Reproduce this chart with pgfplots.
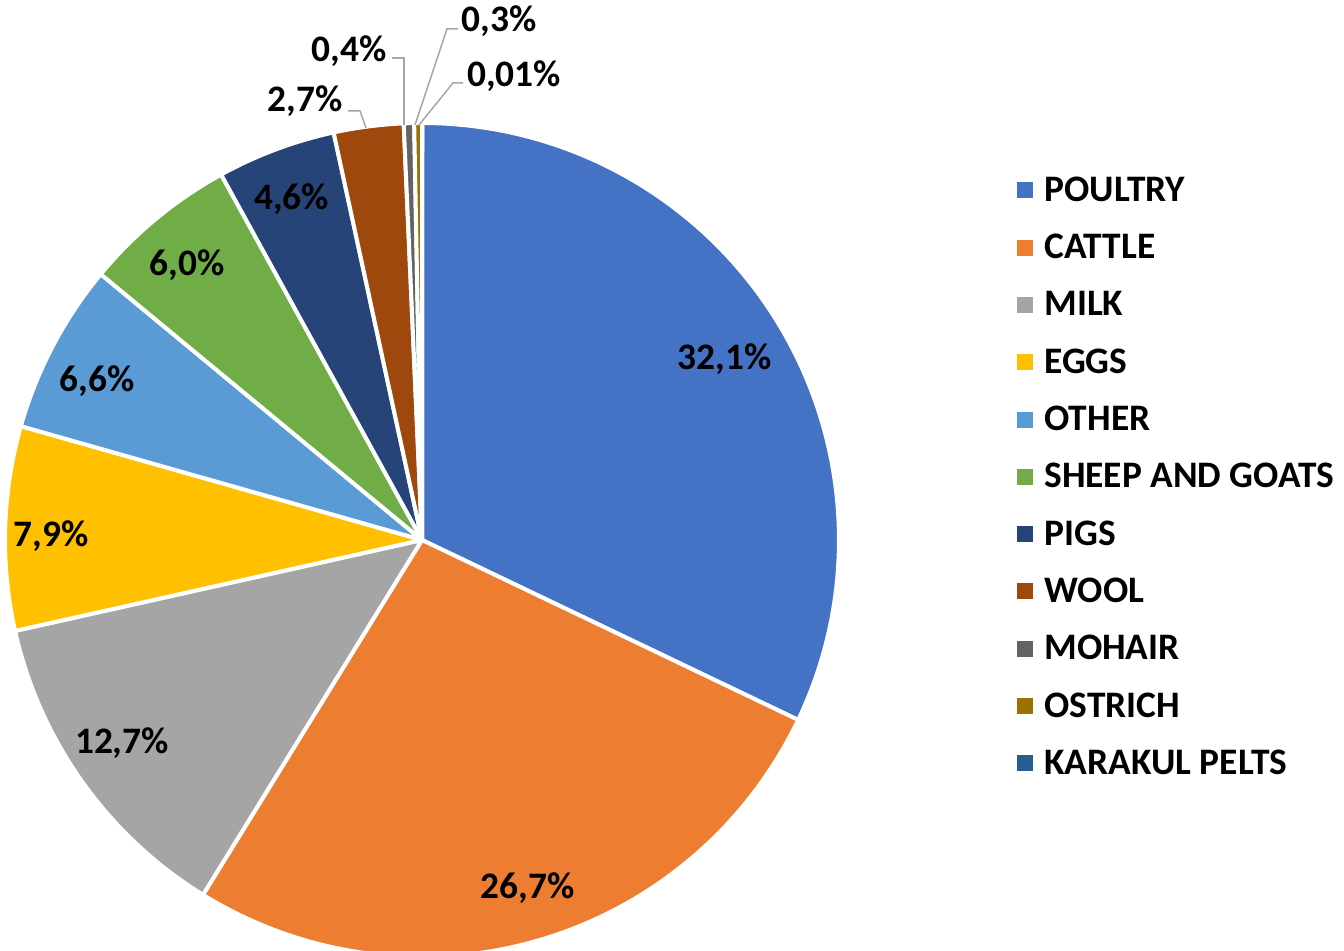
\documentclass[border=0pt]{standalone}
\usepackage{pgfplots}
\usepackage{pgfplotstable}
\pgfplotsset{compat=1.18}
\usepackage{fontspec}
\setmainfont{Carlito}
\definecolor{c0}{HTML}{4472C4}
\definecolor{c1}{HTML}{ED7D31}
\definecolor{c2}{HTML}{A5A5A5}
\definecolor{c3}{HTML}{FFC000}
\definecolor{c4}{HTML}{5B9BD5}
\definecolor{c5}{HTML}{70AD47}
\definecolor{c6}{HTML}{264478}
\definecolor{c7}{HTML}{9E480E}
\definecolor{c8}{HTML}{636363}
\definecolor{c9}{HTML}{997300}
\definecolor{c10}{HTML}{255E91}
\definecolor{leader}{HTML}{A6A6A6}
\newcommand\labfont{\fontsize{18.7}{22}\selectfont\bfseries}
% value in percent; ldx, ldy: small offsets of the value label (px)
\pgfplotstableread[col sep=comma]{
name,value,col,ldx,ldy
POULTRY,32.1,c0,-3,-10
CATTLE,26.7,c1,4,0
MILK,12.7,c2,-6,8
EGGS,7.9,c3,-10,-5
OTHER,6.6,c4,-5,-8
SHEEP AND GOATS,6.0,c5,-5,-2
PIGS,4.6,c6,-4,4
WOOL,2.7,c7,0,0
MOHAIR,0.4,c8,0,0
OSTRICH,0.3,c9,0,0
KARAKUL PELTS,0.01,c10,0,0
}\piedata
\begin{document}
\begin{tikzpicture}
\begin{axis}[
  scale only axis, width=672pt, height=475.5pt,
  xmin=0, xmax=1344, ymin=0, ymax=951,
  axis lines=none, ticks=none,
  legend image code/.code={\fill[#1] (0pt,-4pt) rectangle (8pt,4pt);},
  legend cell align=left,
  legend style={at={(axis cs:1017,774)}, anchor=north west, draw=none, fill=none,
    font=\labfont, inner sep=0pt, row sep=15.65pt,
    nodes={inner sep=0pt, text height=12pt, text depth=1pt},
    /tikz/every odd column/.append style={column sep=5.5pt}},
]
\path (axis cs:0,0) rectangle (axis cs:1344,951);
\def\cum{0}
\pgfplotsforeachungrouped \i in {0,...,10}{%
  \pgfplotstablegetelem{\i}{value}\of\piedata \let\v\pgfplotsretval
  \pgfplotstablegetelem{\i}{col}\of\piedata \let\c\pgfplotsretval
  \pgfplotstablegetelem{\i}{name}\of\piedata \let\n\pgfplotsretval
  \pgfplotstablegetelem{\i}{ldx}\of\piedata \let\dx\pgfplotsretval
  \pgfplotstablegetelem{\i}{ldy}\of\piedata \let\dy\pgfplotsretval
  \pgfmathsetmacro\a{90-3.6*\cum}%
  \pgfmathsetmacro\b{90-3.6*(\cum+\v)}%
  \pgfmathsetmacro\m{90-3.6*(\cum+\v/2)}%
  \pgfmathsetmacro\lx{422+0.87*415*cos(\m)+\dx}%
  \pgfmathsetmacro\ly{411+0.87*415*sin(\m)+\dy}%
  \pgfmathsetmacro\cum{\cum+\v}%
  \edef\temp{%
    \noexpand\addplot[fill=\c, draw=white, line width=2pt, line join=round,
      domain=\b:\a, samples=80, forget plot]
      ({422+417*cos(x)},{411+417*sin(x)}) -- (axis cs:422,411) -- cycle;
    \noexpand\addlegendimage{fill=\c, draw=none}
    \noexpand\addlegendentry{\n}
  }\temp
  \ifnum\i<7
    \edef\temp{\noexpand\node[font=\noexpand\labfont, anchor=base, yshift=-5.9pt, inner sep=0pt]
      at (axis cs:\lx,\ly) {\noexpand\pgfmathprintnumber[fixed,fixed zerofill,precision=1,use comma,assume math mode=true]{\v}\noexpand\%};}%
    \temp
  \fi
}
% outside labels with leader lines
\draw[leader, line width=0.75pt] (axis cs:348,840) -- (axis cs:360,840) -- (axis cs:366,823);
\draw[leader, line width=0.75pt] (axis cs:392,893) -- (axis cs:404,893) -- (axis cs:404,826);
\draw[leader, line width=0.75pt] (axis cs:458,922) -- (axis cs:447,922) -- (axis cs:415,826);
\draw[leader, line width=0.75pt] (axis cs:463,868) -- (axis cs:453,868) -- (axis cs:419,826);
\node[font=\labfont, anchor=base, inner sep=0pt] at (axis cs:305,839) {2,7\%};
\node[font=\labfont, anchor=base, inner sep=0pt] at (axis cs:349,889) {0,4\%};
\node[font=\labfont, anchor=base, inner sep=0pt] at (axis cs:499,919) {0,3\%};
\node[font=\labfont, anchor=base, inner sep=0pt] at (axis cs:514,864) {0,01\%};
\end{axis}
\end{tikzpicture}
\end{document}
